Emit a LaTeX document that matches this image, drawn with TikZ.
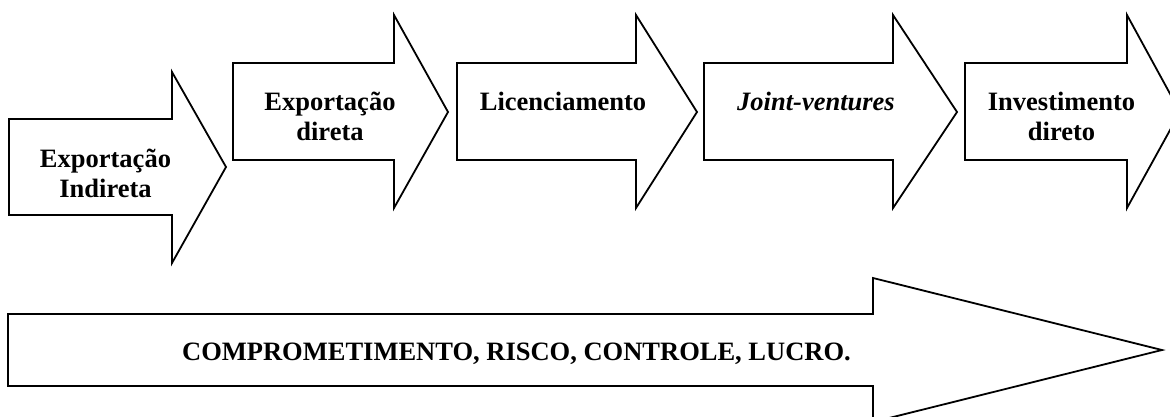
\documentclass[tikz,border=0pt]{standalone}
\usepackage{fontspec}
\setmainfont{Liberation Serif}
\begin{document}
\begin{tikzpicture}[x=1pt,y=-1pt,
  shp/.style={draw=black,line width=1.8pt,line join=miter,fill=white},
  lbl/.style={font=\fontsize{26.5}{30}\selectfont\bfseries,align=center,inner sep=0pt,anchor=base}]
\useasboundingbox (0,0) rectangle (1170,416);
\clip (0,0) rectangle (1170,416);
% top arrows
\draw[shp] (9,119) -- (172,119) -- (172,72) -- (226,167) -- (172,263) -- (172,215) -- (9,215) -- cycle;
\draw[shp] (233,63) -- (394,63) -- (394,15) -- (448,112) -- (394,208) -- (394,160) -- (233,160) -- cycle;
\draw[shp] (457,63) -- (636,63) -- (636,15) -- (697,112) -- (636,208) -- (636,160) -- (457,160) -- cycle;
\draw[shp] (704,63) -- (893,63) -- (893,15) -- (957,112) -- (893,208) -- (893,160) -- (704,160) -- cycle;
\draw[shp] (965,63) -- (1127,63) -- (1127,15) -- (1180,112) -- (1127,208) -- (1127,160) -- (965,160) -- cycle;
% bottom arrow
\draw[shp] (8,314) -- (873,314) -- (873,278) -- (1162,350) -- (873,422) -- (873,386) -- (8,386) -- cycle;
% labels
\node[lbl] (t1) at (105.5,197) {Exportação\\Indireta};
\node[lbl] (t2) at (330,140) {Exportação\\direta};
\node[lbl] (t3) at (563,110) {Licenciamento};
\node[lbl] (t4) at (816,110) {\itshape Joint-ventures};
\node[lbl] (t5) at (1061.5,140) {Investimento\\direto};
\node[lbl] (t6) at (516.5,360) {COMPROMETIMENTO, RISCO, CONTROLE, LUCRO.};
\end{tikzpicture}
\end{document}
